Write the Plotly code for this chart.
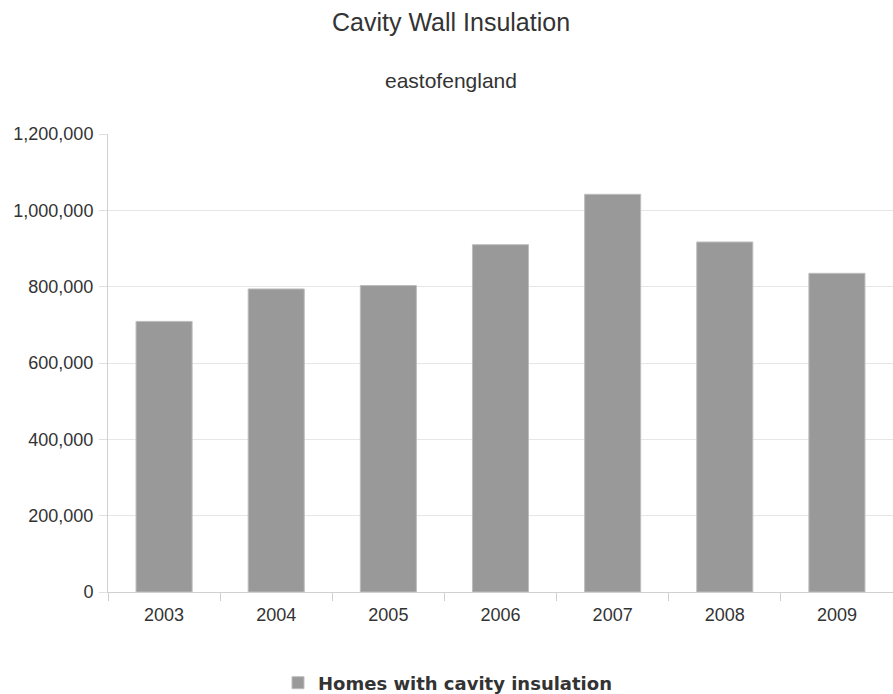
import plotly.graph_objects as go

years = ["2003", "2004", "2005", "2006", "2007", "2008", "2009"]
homes = [709000, 794000, 803000, 910000, 1042000, 917000, 835000]
y_ticks = [0, 200000, 400000, 600000, 800000, 1000000, 1200000]
y_labels = ["0", "200,000", "400,000", "600,000", "800,000", "1,000,000", "1,200,000"]

W, H = 893, 694
L, R, T, B = 108, 0, 134, 102
pw, ph = W - L - R, H - T - B

def px_x(x):
    return (x - L) / pw

def px_y(y):
    return (H - B - y) / ph

fig = go.Figure()
fig.add_trace(go.Bar(
    x=years, y=homes, name="Homes with cavity insulation",
    marker=dict(color="#999999", line=dict(color="#bdbdbd", width=1)),
    width=0.5,
))

fig.update_layout(
    width=W, height=H,
    margin=dict(l=L, r=R, t=T, b=B, autoexpand=False),
    paper_bgcolor="white", plot_bgcolor="white",
    font=dict(family="Liberation Sans, Arial, sans-serif", color="#333333", size=18),
    showlegend=True,
    legend=dict(orientation="h", x=278 / W, xref="container", xanchor="left",
                y=(H - 683) / H, yref="container", yanchor="middle",
                font=dict(family="DejaVu Sans", size=18, color="#333333", weight="bold"),
                itemwidth=30),
    annotations=[
        dict(text="Cavity Wall Insulation", x=px_x(451), xref="paper", y=px_y(22), yref="paper",
             yanchor="middle", xanchor="center",
             showarrow=False, font=dict(size=25, color="#333333")),
        dict(text="eastofengland", x=px_x(451), xref="paper", y=px_y(80), yref="paper",
             yanchor="middle", xanchor="center",
             showarrow=False, font=dict(size=21, color="#333333")),
    ],
)

fig.update_xaxes(
    type="category", showline=True, linecolor="#d0d0d0", linewidth=1,
    ticks="outside", tickson="boundaries", ticklen=8, tickcolor="#d0d0d0",
    showgrid=False, tickfont=dict(size=18, color="#333333"),
    ticklabelstandoff=6, automargin=False,
)
fig.update_yaxes(
    range=[0, 1200000], tickvals=y_ticks, ticktext=y_labels,
    showgrid=True, gridcolor="#e6e6e6", gridwidth=1,
    showline=True, linecolor="#d0d0d0", linewidth=1,
    ticks="outside", ticklen=8, tickcolor="#e0e0e0",
    zeroline=False, tickfont=dict(size=18, color="#333333"),
    ticklabelstandoff=2, automargin=False,
)

fig.write_html("out.html")
